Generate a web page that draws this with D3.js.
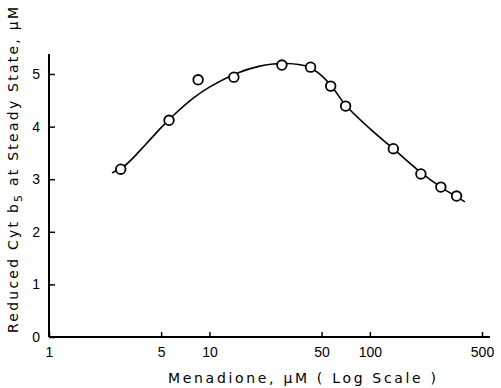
<!DOCTYPE html>
<html>
<head>
<meta charset="utf-8">
<script src="https://cdn.jsdelivr.net/npm/d3@7"></script>
<style>
  body { margin: 0; background: #fff; }
  svg { display: block; font-family: "Liberation Sans", Arial, sans-serif; }
  .title { font-family: "DejaVu Sans", sans-serif; }
</style>
</head>
<body>
<svg id="chart"></svg>
<script>
const w = 501;
const h = 388;

// measured points
const menadione = [2.8, 5.6, 8.5, 14.2, 28.3, 42.7, 57, 70.6, 140, 208, 277, 347];
const cytB5 = [3.19, 4.12, 4.89, 4.94, 5.17, 5.13, 4.77, 4.39, 3.58, 3.1, 2.85, 2.68];

// fitted curve
const curveX = [2.47, 3, 4, 5, 6, 8, 10, 15, 20, 25, 30, 40, 50, 60, 70, 100, 140, 200, 280, 350, 391];
const curveY = [3.12, 3.27, 3.66, 3.98, 4.22, 4.55, 4.75, 5.02, 5.14, 5.19, 5.2, 5.15, 4.97, 4.7, 4.42, 3.96, 3.58, 3.17, 2.84, 2.66, 2.57];

const xTicks = [1, 5, 10, 50, 100, 500];
const yTicks = [0, 1, 2, 3, 4, 5];

const svg = d3.select("#chart").attr("width", w).attr("height", h);

const x = d3.scaleLog().domain([1, 500]).range([49, 482]);
const y = d3.scaleLinear().domain([0, 5]).range([337, 74]);

// axes lines
svg.append("line")
   .attr("x1", 49).attr("x2", 490)
   .attr("y1", y(0)).attr("y2", y(0))
   .attr("stroke", "#000").attr("stroke-width", 2);

svg.append("line")
   .attr("x1", 49).attr("x2", 49)
   .attr("y1", y(0)).attr("y2", 54)
   .attr("stroke", "#000").attr("stroke-width", 2);

let xAxis = d3.axisTop(x).tickValues(xTicks).tickFormat(d3.format("d")).tickSizeInner(5).tickSizeOuter(0);
let gx = svg.append("g")
   .attr("transform", `translate(0, ${y(0)})`)
   .call(xAxis);
gx.select(".domain").remove();
gx.selectAll(".tick line").attr("stroke-width", 1.5);
gx.selectAll(".tick text")
  .attr("y", 10).attr("dy", "0.71em")
  .style("font-size", "14px").style("fill", "#000");

let yAxis = d3.axisRight(y).tickValues(yTicks).tickFormat(d3.format("d")).tickSizeInner(6).tickSizeOuter(0);
let gy = svg.append("g")
   .attr("transform", "translate(49, 0)")
   .call(yAxis);
gy.select(".domain").remove();
gy.selectAll(".tick line").attr("stroke-width", 1.5);
gy.selectAll(".tick text")
  .attr("x", -9).attr("text-anchor", "end")
  .style("font-size", "14px").style("fill", "#000");

// curve
const line = d3.line()
   .x(d => x(d[0]))
   .y(d => y(d[1]))
   .curve(d3.curveCatmullRom);

svg.append("path")
   .datum(d3.zip(curveX, curveY))
   .attr("d", line)
   .attr("fill", "none")
   .attr("stroke", "#000")
   .attr("stroke-width", 1.6);

svg.selectAll("circle")
   .data(d3.zip(menadione, cytB5))
   .enter()
   .append("circle")
   .attr("cx", d => x(d[0]))
   .attr("cy", d => y(d[1]))
   .attr("r", 4.8)
   .attr("fill", "#fff")
   .attr("stroke", "#000")
   .attr("stroke-width", 1.8);

// titles
svg.append("text")
   .attr("class", "title")
   .attr("x", 302).attr("y", 383)
   .attr("text-anchor", "middle")
   .attr("textLength", 268).attr("lengthAdjust", "spacing")
   .style("font-size", "14px")
   .text("Menadione, \u00b5M ( Log Scale )");

let yt = svg.append("text")
   .attr("class", "title")
   .attr("transform", "translate(18, 170) rotate(-90)")
   .attr("text-anchor", "middle")
   .style("font-size", "14px");
yt.append("tspan").text("Reduced  Cyt b");
yt.append("tspan").attr("dy", 4).style("font-size", "11px").text("5");
yt.append("tspan").attr("dy", -4).text(" at Steady State, \u00b5M");
yt.attr("textLength", 326).attr("lengthAdjust", "spacing");
</script>
</body>
</html>
